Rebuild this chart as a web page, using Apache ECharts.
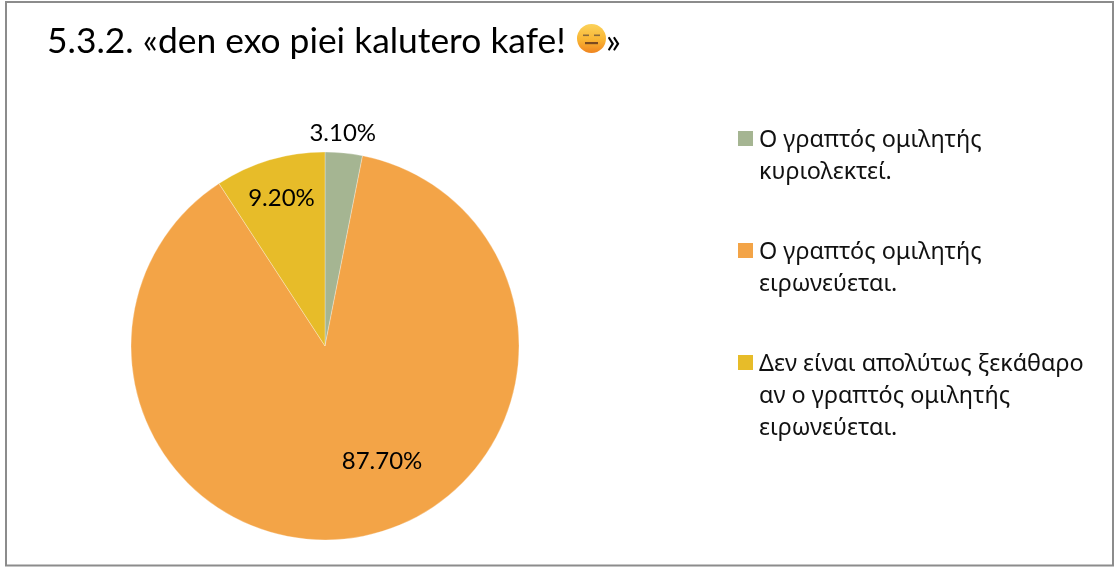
<!DOCTYPE html>
<html>
<head>
<meta charset="utf-8">
<style>html,body{margin:0;padding:0;background:#fff}#c{width:1114px;height:567px}</style>
<script src="https://cdn.jsdelivr.net/npm/echarts@6/dist/echarts.min.js"></script>
</head>
<body>
<div id="c"></div>
<script>
const titleText = '5.3.2. «den exo piei kalutero kafe! {e| }»';
const categories = [
  'Ο γραπτός ομιλητής\nκυριολεκτεί.',
  'Ο γραπτός ομιλητής\nειρωνεύεται.',
  'Δεν είναι απολύτως ξεκάθαρο\nαν ο γραπτός ομιλητής\nειρωνεύεται.'
];
const values = [3.1, 87.7, 9.2];
const colors = ['#A5B592', '#F3A447', '#E7BC29'];
const labelShift = [[8, -113], [38, 17], [-15, -52]];

const legendIcon = 'path://M0 0L15 0L15 0.001Z M0 7L15 7L15 22L0 22Z M0 96L15 96L15 95.999Z';

const chart = echarts.init(document.getElementById('c'), null, {renderer: 'canvas'});
chart.setOption({
  animation: false,
  backgroundColor: '#ffffff',
  title: {
    text: titleText,
    left: 47,
    top: 24,
    padding: 0,
    textStyle: {
      fontFamily: 'Lato',
      fontWeight: 'normal',
      fontSize: 35.4,
      color: '#000',
      rich: {e: {width: 31, fontSize: 35.4}}
    }
  },
  legend: {
    orient: 'vertical',
    left: 738,
    top: 124,
    padding: 0,
    data: categories.map(name => ({name, icon: legendIcon})),
    itemWidth: 15,
    itemHeight: 96,
    itemGap: 16,
    selectedMode: false,
    itemStyle: {borderWidth: 0},
    formatter: name => name.split('\n').length < 3 ? name + '\n ' : name,
    textStyle: {
      fontFamily: 'Noto Sans',
      fontSize: 23.4,
      lineHeight: 32,
      color: '#111',
      padding: [0, 0, 0, 1]
    }
  },
  series: [{
    type: 'pie',
    center: [325, 346],
    radius: [0, 194],
    startAngle: 90,
    clockwise: true,
    silent: true,
    data: categories.map((name, i) => ({
      name,
      value: values[i],
      itemStyle: {color: colors[i], borderColor: '#ffffff', borderWidth: 0.3}
    })),
    label: {
      show: true,
      position: 'inside',
      formatter: p => p.value.toFixed(2) + '%',
      fontFamily: 'Lato',
      fontSize: 24,
      color: '#000'
    },
    labelLine: {show: false},
    labelLayout: p => ({dx: labelShift[p.dataIndex][0], dy: labelShift[p.dataIndex][1]})
  }],
  graphic: [
    {
      type: 'rect', silent: true, z: -1,
      shape: {x: 6, y: 2, width: 1107, height: 563.5},
      style: {fill: 'none', stroke: '#8c8c8c', lineWidth: 2}
    },
    {
      type: 'circle', silent: true,
      shape: {cx: 591.5, cy: 38.5, r: 14.5},
      style: {
        fill: {type: 'linear', x: 0, y: 0, x2: 0, y2: 1, colorStops: [
          {offset: 0, color: '#FBD25A'}, {offset: 0.55, color: '#F9B533'}, {offset: 1, color: '#EF8420'}
        ]}
      }
    },
    {type: 'rect', silent: true, shape: {x: 583, y: 34.5, width: 6, height: 1.6}, style: {fill: '#8a6a3a'}},
    {type: 'rect', silent: true, shape: {x: 594, y: 34.5, width: 6, height: 1.6}, style: {fill: '#8a6a3a'}},
    {type: 'rect', silent: true, shape: {x: 585, y: 42, width: 13, height: 2.2}, style: {fill: '#7a4a20'}}
  ]
});
</script>
</body>
</html>
